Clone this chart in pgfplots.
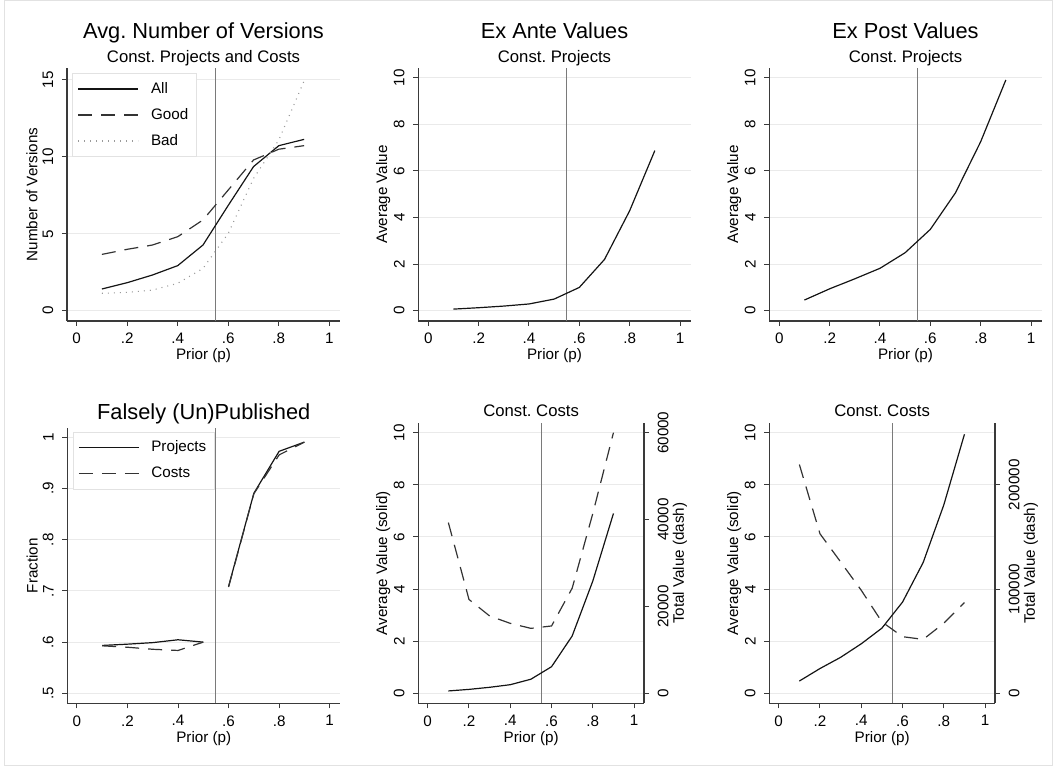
\documentclass[border=0pt]{standalone}
\usepackage{pgfplots}
\pgfplotsset{compat=1.18}
\usepackage{fontspec}
\setmainfont{Liberation Sans}

\definecolor{axgray}{HTML}{3A3A3A}
\definecolor{gridgray}{HTML}{EAEAEA}
\definecolor{refgray}{HTML}{7A7A7A}
\definecolor{dotgray}{HTML}{9A9A9A}
\definecolor{framegray}{HTML}{E2E2E2}

\newcommand{\tfont}{\fontsize{21.8}{26}\selectfont}
\newcommand{\sfont}{\fontsize{16.7}{20}\selectfont}
\newcommand{\lfont}{\fontsize{15.2}{18}\selectfont}

\pgfplotsset{
  stata/.style={
    scale only axis, clip=false,
    axis x line=bottom, axis y line=left,
    axis line style={-, draw=axgray, line width=1.1pt},
    tick style={axgray, line width=1pt},
    tick align=outside, major tick length=5pt,
    xtick={0,0.2,0.4,0.6,0.8,1}, xticklabels={0,.2,.4,.6,.8,1},
    tick label style={font=\lfont},
    xticklabel style={anchor=north, inner xsep=0pt, inner ysep=7pt},
    yticklabel style={rotate=90, anchor=south, inner xsep=0pt, inner ysep=8.5pt},
    scaled y ticks=false,
    ymajorgrids, grid style={gridgray, line width=1pt},
    xlabel={Prior (p)},
    every axis x label/.style={at={(axis description cs:0.5,0)}, yshift=-35pt, anchor=center, font=\lfont},
    every axis y label/.style={at={(axis description cs:0,0.5)}, xshift=-35pt, rotate=90, anchor=center, font=\lfont},
    legend cell align=left,
    legend image code/.code={\draw[##1] (0pt,0pt) -- (60pt,0pt);},
    legend style={anchor=north west, draw=framegray, fill=white, line width=0.8pt,
      font=\lfont, inner xsep=5pt, inner ysep=5.8pt, row sep=6pt, column sep=9pt,
      nodes={inner sep=3pt, text height=11pt, text depth=3pt}},
  },
  rightax/.style={
    scale only axis, clip=false,
    axis x line=none, axis y line=right,
    axis line style={-, draw=axgray, line width=1.1pt},
    tick style={axgray, line width=1pt},
    tick align=outside, major tick length=5pt,
    tick label style={font=\lfont},
    yticklabel style={rotate=90, anchor=north, inner xsep=0pt, inner ysep=8.5pt},
    scaled y ticks=false,
    every axis y label/.style={at={(axis description cs:1,0.5)}, xshift=36pt, rotate=90, anchor=center, font=\lfont},
  },
  solidln/.style={black!92, line width=1.2pt},
  dashln/.style={black!80, line width=1.2pt, dash pattern=on 14pt off 9pt},
  dotln/.style={dotgray, line width=1.1pt, dash pattern=on 1pt off 5pt},
  refln/.style={refgray, line width=1pt, forget plot},
}

\begin{document}
\frenchspacing
\begin{tikzpicture}
\useasboundingbox (0,0) rectangle (1053pt,766pt);
\draw[framegray, line width=0.8pt] (4pt,0.5pt) rectangle (1052.5pt,765.5pt);

% ---------- top left ----------
\begin{axis}[stata, at={(67pt,445pt)}, anchor=south west,
  width=273pt, height=253pt,
  xmin=-0.038, xmax=1.042, ymin=-0.67, ymax=15.78,
  ytick={0,5,10,15}, yticklabels={0,5,10,15},
  ylabel={Number of Versions},
  legend style={at={(axis description cs:0.02,0.981)}}]
\addplot[refln] coordinates {(0.55,-0.67) (0.55,15.78)};
\addplot[solidln] coordinates {(0.1,1.41) (0.2,1.82) (0.3,2.32) (0.4,2.93) (0.5,4.27) (0.6,6.85) (0.7,9.37) (0.8,10.73) (0.9,11.14)};
\addlegendentry{All}
\addplot[dashln] coordinates {(0.1,3.66) (0.2,3.99) (0.3,4.27) (0.4,4.81) (0.5,5.9) (0.6,7.85) (0.7,9.8) (0.8,10.5) (0.9,10.73)};
\addlegendentry{Good}
\addplot[dotln] coordinates {(0.1,1.13) (0.2,1.19) (0.3,1.34) (0.4,1.78) (0.5,2.75) (0.6,5.03) (0.7,8.6) (0.8,11.1) (0.9,14.94)};
\addlegendentry{Bad}
\node[anchor=base, font=\tfont] at ([yshift=29.7pt]axis description cs:0.5,1) {Avg. Number of Versions};
\node[anchor=base, font=\sfont] at ([yshift=5.7pt]axis description cs:0.5,1) {Const. Projects and Costs};
\end{axis}

% ---------- top middle ----------
\begin{axis}[stata, at={(418.3pt,445pt)}, anchor=south west,
  width=272.4pt, height=252.7pt,
  xmin=-0.0397, xmax=1.0425, ymin=-0.44, ymax=10.4,
  ytick={0,2,4,6,8,10}, yticklabels={0,2,4,6,8,10},
  ylabel={Average Value}]
\addplot[refln] coordinates {(0.55,-0.44) (0.55,10.4)};
\addplot[solidln] coordinates {(0.1,0.07) (0.2,0.13) (0.3,0.2) (0.4,0.29) (0.5,0.5) (0.6,1.0) (0.7,2.2) (0.8,4.29) (0.9,6.87)};
\node[anchor=base, font=\tfont] at ([yshift=29.7pt]axis description cs:0.5,1) {Ex Ante Values};
\node[anchor=base, font=\sfont] at ([yshift=5.7pt]axis description cs:0.5,1) {Const. Projects};
\end{axis}

% ---------- top right ----------
\begin{axis}[stata, at={(769.3pt,445pt)}, anchor=south west,
  width=272.4pt, height=252.7pt,
  xmin=-0.0397, xmax=1.0425, ymin=-0.44, ymax=10.4,
  ytick={0,2,4,6,8,10}, yticklabels={0,2,4,6,8,10},
  ylabel={Average Value}]
\addplot[refln] coordinates {(0.55,-0.44) (0.55,10.4)};
\addplot[solidln] coordinates {(0.1,0.46) (0.2,0.94) (0.3,1.37) (0.4,1.82) (0.5,2.49) (0.6,3.49) (0.7,5.06) (0.8,7.25) (0.9,9.9)};
\node[anchor=base, font=\tfont] at ([yshift=29.7pt]axis description cs:0.5,1) {Ex Post Values};
\node[anchor=base, font=\sfont] at ([yshift=5.7pt]axis description cs:0.5,1) {Const. Projects};
\end{axis}

% ---------- bottom left ----------
\begin{axis}[stata, at={(67.3pt,62.7pt)}, anchor=south west,
  width=273pt, height=275pt,
  xmin=-0.038, xmax=1.042, ymin=0.4804, ymax=1.018,
  ytick={0.5,0.6,0.7,0.8,0.9,1}, yticklabels={.5,.6,.7,.8,.9,1},
  ylabel={Fraction}, unbounded coords=jump,
  legend style={at={(axis description cs:0.02,0.988)}}]
\addplot[refln] coordinates {(0.55,0.4804) (0.55,1.018)};
\addplot[solidln] coordinates {(0.1,0.5935) (0.2,0.596) (0.3,0.599) (0.4,0.6046) (0.5,0.6) (0.55,nan) (0.6,0.709) (0.7,0.891) (0.8,0.973) (0.9,0.991)};
\addlegendentry{Projects}
\addplot[dashln] coordinates {(0.1,0.5928) (0.2,0.590) (0.3,0.586) (0.4,0.5837) (0.5,0.6) (0.55,nan) (0.6,0.7076) (0.7,0.890) (0.8,0.966) (0.9,0.991)};
\addlegendentry{Costs}
\node[anchor=base, font=\tfont] at ([yshift=9pt]axis description cs:0.5,1) {Falsely (Un)Published};
\end{axis}

% ---------- bottom middle ----------
\begin{axis}[stata, at={(418.3pt,62.7pt)}, anchor=south west,
  width=225.7pt, height=280pt,
  xmin=-0.0456, xmax=1.048, ymin=-0.384, ymax=10.36,
  ytick={0,2,4,6,8,10}, yticklabels={0,2,4,6,8,10},
  ylabel={Average Value (solid)}]
\addplot[refln] coordinates {(0.55,-0.384) (0.55,10.36)};
\addplot[solidln] coordinates {(0.1,0.09) (0.2,0.15) (0.3,0.23) (0.4,0.33) (0.5,0.54) (0.6,1.02) (0.7,2.2) (0.8,4.31) (0.9,6.9)};
\node[anchor=base, font=\sfont] at ([yshift=6.6pt]axis description cs:0.5,1) {Const. Costs};
\end{axis}
\begin{axis}[rightax, at={(418.3pt,62.7pt)}, anchor=south west,
  width=225.7pt, height=280pt,
  xmin=-0.0456, xmax=1.048, ymin=-2304, ymax=62160,
  ytick={0,20000,40000,60000}, yticklabels={0,20000,40000,60000},
  ylabel={Total Value (dash)}]
\addplot[dashln] coordinates {(0.1,39300) (0.2,21600) (0.3,17800) (0.4,16100) (0.5,14950) (0.6,15500) (0.7,24200) (0.8,41400) (0.9,60000)};
\end{axis}

% ---------- bottom right ----------
\begin{axis}[stata, at={(769.3pt,62.7pt)}, anchor=south west,
  width=225.7pt, height=280pt,
  xmin=-0.0456, xmax=1.048, ymin=-0.384, ymax=10.36,
  ytick={0,2,4,6,8,10}, yticklabels={0,2,4,6,8,10},
  ylabel={Average Value (solid)}]
\addplot[refln] coordinates {(0.55,-0.384) (0.55,10.36)};
\addplot[solidln] coordinates {(0.1,0.47) (0.2,0.95) (0.3,1.38) (0.4,1.9) (0.5,2.5) (0.6,3.5) (0.7,5.02) (0.8,7.23) (0.9,9.94)};
\node[anchor=base, font=\sfont] at ([yshift=6.6pt]axis description cs:0.5,1) {Const. Costs};
\end{axis}
\begin{axis}[rightax, at={(769.3pt,62.7pt)}, anchor=south west,
  width=225.7pt, height=280pt,
  xmin=-0.0456, xmax=1.048, ymin=-9600, ymax=259000,
  ytick={0,100000,200000}, yticklabels={0,100000,200000},
  ylabel={Total Value (dash)}]
\addplot[dashln] coordinates {(0.1,219500) (0.2,153000) (0.3,126000) (0.4,98800) (0.5,68500) (0.6,54300) (0.7,51700) (0.8,67200) (0.9,87000)};
\end{axis}
\end{tikzpicture}
\end{document}
